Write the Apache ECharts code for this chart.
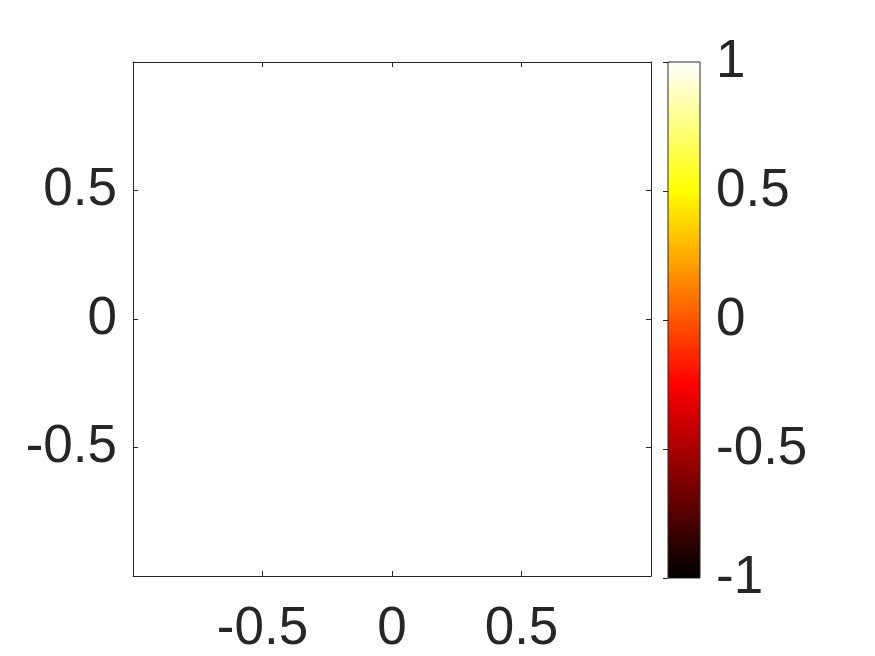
<!DOCTYPE html>
<html lang="en">
<head>
    <meta charset="UTF-8">
    <title>Colormap plot</title>
    <style>
        * { margin: 0; padding: 0; }
        #main { width: 875px; height: 656px; background: #fff; }
    </style>
    <script src="https://cdn.jsdelivr.net/npm/echarts@6/dist/echarts.min.js"></script>
</head>
<body>
    <div id="main"></div>
    <script>
        // data
        const xRange = [-1, 1];
        const yRange = [-1, 1];
        const tickStep = 0.5;
        const points = [];            // the plot area is empty
        const cbRange = [-1, 1];      // colour bar limits
        const cbStep = 0.5;

        const ink = '#262626';
        const font = 'Liberation Sans, Arial, sans-serif';

        var chartDom = document.getElementById('main');
        var myChart = echarts.init(chartDom);

        function boxAxis(pos, gridIndex, showLabel) {
            return {
                type: 'value',
                gridIndex: gridIndex,
                position: pos,
                min: pos === 'left' || pos === 'right' ? yRange[0] : xRange[0],
                max: pos === 'left' || pos === 'right' ? yRange[1] : xRange[1],
                interval: tickStep,
                axisLine: { show: true, onZero: false, lineStyle: { color: ink, width: 1 } },
                axisTick: { show: true, inside: true, length: 5, lineStyle: { color: ink } },
                splitLine: { show: false },
                axisLabel: {
                    show: showLabel,
                    showMinLabel: false,
                    showMaxLabel: false,
                    color: ink,
                    fontSize: 53,
                    fontFamily: font,
                    margin: pos === 'bottom' ? 27 : 16,
                    padding: pos === 'left' ? [16, 0, 0, 0] : 0
                }
            };
        }

        option = {
            backgroundColor: '#ffffff',
            animation: false,
            grid: [
                { left: 133, top: 62, width: 518, height: 516 },
                { left: 668, top: 62, width: 32, height: 516 }
            ],
            xAxis: [
                boxAxis('bottom', 0, true),
                boxAxis('top', 0, false),
                { type: 'value', gridIndex: 1, min: 0, max: 1, show: false }
            ],
            yAxis: [
                boxAxis('left', 0, true),
                boxAxis('right', 0, false),
                {
                    type: 'value',
                    gridIndex: 1,
                    position: 'right',
                    min: cbRange[0],
                    max: cbRange[1],
                    interval: cbStep,
                    axisLine: { show: false },
                    axisTick: { show: true, inside: true, length: 5, lineStyle: { color: ink } },
                    splitLine: { show: false },
                    axisLabel: {
                        color: ink,
                        fontSize: 53,
                        fontFamily: font,
                        margin: 16,
                        padding: [16, 0, 0, 0]
                    }
                }
            ],
            series: [
                {
                    type: 'scatter',
                    xAxisIndex: 0,
                    yAxisIndex: 0,
                    data: points
                },
                {
                    // colour bar, hot colormap
                    type: 'custom',
                    xAxisIndex: 2,
                    yAxisIndex: 2,
                    data: [[cbRange[0], cbRange[1]]],
                    renderItem: function (params, api) {
                        const p0 = api.coord([0, api.value(1)]);
                        const p1 = api.coord([1, api.value(0)]);
                        return {
                            type: 'rect',
                            shape: { x: p0[0], y: p0[1], width: p1[0] - p0[0], height: p1[1] - p0[1] },
                            style: {
                                fill: new echarts.graphic.LinearGradient(0, 1, 0, 0, [
                                    { offset: 0, color: '#000000' },
                                    { offset: 0.375, color: '#ff0000' },
                                    { offset: 0.75, color: '#ffff00' },
                                    { offset: 1, color: '#ffffff' }
                                ]),
                                stroke: ink,
                                lineWidth: 1
                            },
                            z2: 0
                        };
                    }
                }
            ]
        };
        option && myChart.setOption(option);
    </script>
</body>
</html>
